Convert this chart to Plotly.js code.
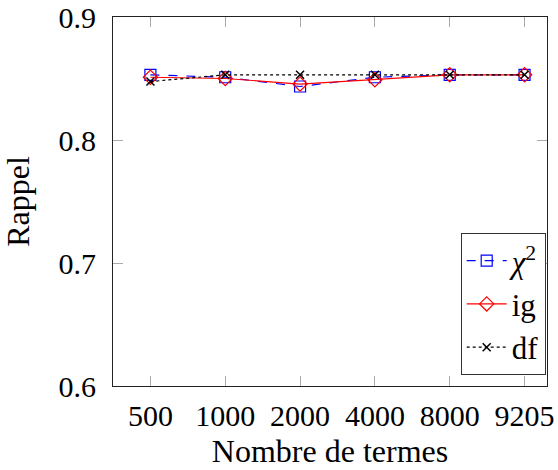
<!DOCTYPE html>
<html>
<head>
<meta charset="utf-8">
<script src="https://cdn.plot.ly/plotly-3.0.1.min.js"></script>
<style>html,body{margin:0;padding:0;background:#fff;}#chart{width:558px;height:470px;}</style>
</head>
<body>
<div id="chart"></div>
<script>
const categories = ["500", "1000", "2000", "4000", "8000", "9205"];
const chi2 = [0.853, 0.851, 0.8435, 0.851, 0.853, 0.853];
const ig = [0.851, 0.850, 0.8455, 0.849, 0.853, 0.853];
const df = [0.8475, 0.853, 0.853, 0.853, 0.853, 0.853];
const yTicks = [0.6, 0.7, 0.8, 0.9];

const fam = '"Liberation Serif", "Times New Roman", serif';
const tickFont = {family: fam, size: 30, color: '#000'};
const titleFont = {family: fam, size: 32, color: '#000'};
const legendFont = {family: fam, size: 31, color: '#000'};

const traces = [
  {x: categories, y: chi2, name: '<i>χ</i><sup>2</sup>', type: 'scatter', mode: 'lines+markers',
   line: {color: '#0000ff', width: 1.2, dash: 'dash'},
   marker: {symbol: 'square-open', size: 11, color: '#0000ff', line: {width: 1.2}}},
  {x: categories, y: ig, name: 'ig', type: 'scatter', mode: 'lines+markers',
   line: {color: '#ff0000', width: 1.2},
   marker: {symbol: 'diamond-open', size: 11, color: '#ff0000', line: {width: 1.2}}},
  {x: categories, y: df, name: 'df', type: 'scatter', mode: 'lines+markers',
   line: {color: '#000000', width: 1.2, dash: 'dot'},
   marker: {symbol: 'x-thin-open', size: 8, color: '#000000', line: {width: 1.5, color: '#000'}}}
];

const layout = {
  width: 558, height: 470,
  margin: {l: 113, r: 11, t: 17, b: 84},
  paper_bgcolor: '#fff', plot_bgcolor: '#fff',
  font: tickFont,
  showlegend: true,
  legend: {x: 0.997, xanchor: 'right', y: 0.03, yanchor: 'bottom', xref: 'paper', yref: 'paper',
    bgcolor: '#fff', bordercolor: '#333', borderwidth: 1, font: legendFont,
    tracegroupgap: 0, itemwidth: 40, entrywidth: 100},
  xaxis: {
    type: 'category', range: [-0.5, 5.3],
    tickvals: categories, ticktext: categories,
    showgrid: false, zeroline: false,
    showline: true, linecolor: '#222', linewidth: 1, mirror: 'ticks',
    ticks: 'inside', ticklen: 10, tickcolor: '#aaa', tickwidth: 1,
    ticklabelstandoff: 3,
    title: {text: 'Nombre de termes', font: titleFont, standoff: 8}
  },
  yaxis: {
    range: [0.6, 0.9], tickvals: yTicks, ticktext: yTicks.map(v => v.toFixed(1)),
    showgrid: false, zeroline: false,
    showline: true, linecolor: '#222', linewidth: 1, mirror: 'ticks',
    ticks: 'inside', ticklen: 10, tickcolor: '#aaa', tickwidth: 1,
    ticklabelstandoff: 10,
    title: {text: 'Rappel', font: titleFont, standoff: 20}
  }
};

Plotly.newPlot('chart', traces, layout, {displayModeBar: false, staticPlot: true});
</script>
</body>
</html>
